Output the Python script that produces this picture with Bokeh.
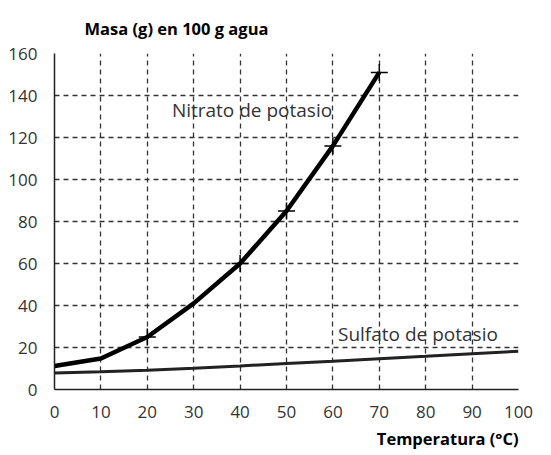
from bokeh.plotting import figure
from bokeh.models import Label, FixedTicker, Range1d, Title
from bokeh.embed import file_html
from bokeh.resources import INLINE

temps = [0, 10, 20, 30, 40, 50, 60, 70]
nitrato = [11.2, 14.8, 25, 41, 60, 85, 116, 151]
nitrato_marks_x = [20, 40, 50, 60, 70]
nitrato_marks_y = [25, 60, 85, 116, 151]

temps_s = [0, 10, 20, 30, 40, 50, 60, 70, 80, 90, 100]
sulfato = [7.8, 8.4, 9.2, 10.1, 11.2, 12.4, 13.5, 14.7, 15.8, 17.0, 18.2]

x_ticks = [0, 10, 20, 30, 40, 50, 60, 70, 80, 90, 100]
y_ticks = [0, 20, 40, 60, 80, 100, 120, 140, 160]

FONT = "Open Sans"

p = figure(frame_width=464, frame_height=336, output_backend="svg", toolbar_location=None,
           x_range=Range1d(0, 100), y_range=Range1d(0, 160),
           min_border_left=54, min_border_right=17, min_border_top=45, min_border_bottom=58)
p.outline_line_color = None
p.background_fill_color = "white"
p.border_fill_color = "white"

for ax in (p.xaxis, p.yaxis):
    ax.major_tick_line_color = None
    ax.minor_tick_line_color = None
    ax.axis_line_color = "#222222"
    ax.axis_line_width = 1.5
    ax.major_label_text_font = FONT
    ax.major_label_text_font_size = "17px"
    ax.major_label_text_color = "#333333"
p.xaxis.ticker = FixedTicker(ticks=x_ticks)
p.yaxis.ticker = FixedTicker(ticks=y_ticks)
p.xaxis.major_label_standoff = 10
p.yaxis.major_label_standoff = 11

for g in (p.xgrid, p.ygrid):
    g.grid_line_color = "#333333"
    g.grid_line_dash = "5 4"
    g.grid_line_width = 1.3
p.xgrid.ticker = FixedTicker(ticks=x_ticks)
p.ygrid.ticker = FixedTicker(ticks=y_ticks)

p.line(temps_s, sulfato, line_color="#222222", line_width=3)
p.line(temps, nitrato, line_color="black", line_width=4.5)
p.scatter(nitrato_marks_x, nitrato_marks_y, marker="cross", size=17, line_color="black", line_width=1.5)

p.add_layout(Label(x=25.3, y=133, text="Nitrato de potasio", text_font=FONT, text_font_size="19px",
                   text_color="#333333", text_baseline="middle"))
p.add_layout(Label(x=61.1, y=26.4, text="Sulfato de potasio", text_font=FONT, text_font_size="19px",
                   text_color="#333333", text_baseline="middle"))

p.add_layout(Title(text="Masa (g) en 100 g agua", align="left", offset=30, standoff=28, text_font=FONT,
                   text_font_size="16.5px", text_font_style="bold", text_color="black"), "above")
p.add_layout(Title(text="Temperatura (°C)", align="right", offset=0, standoff=8, text_font=FONT,
                   text_font_size="16.5px", text_font_style="bold", text_color="black"), "below")

open("out.html", "w").write(file_html(p, INLINE))
